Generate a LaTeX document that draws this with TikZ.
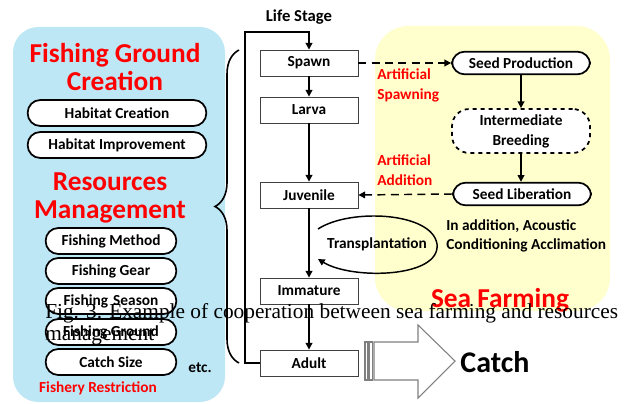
\documentclass[tikz,border=0pt]{standalone}
\usepackage{fontspec}
\setmainfont{Carlito}
\newfontfamily\capfont{Liberation Serif}
\usetikzlibrary{arrows.meta,decorations.pathreplacing,positioning}
\definecolor{panelblue}{RGB}{190,231,246}
\definecolor{panelyellow}{RGB}{255,255,206}
\tikzset{
  pill/.style={draw=black, line width=1.3pt, fill=white, rounded corners=9.5pt, minimum height=19.5pt, inner sep=1pt, font=\bfseries\fontsize{11.5}{13}\selectfont},
  stagebox/.style={draw=black!75, line width=0.6pt, fill=white, minimum width=73.5pt, minimum height=19.5pt, inner sep=1pt, font=\bfseries\fontsize{11.5}{13}\selectfont},
  redtitle/.style={text=red, font=\bfseries\fontsize{20.5}{20.5}\selectfont, align=center, inner sep=0pt},
  redlabel/.style={text=red, font=\bfseries\fontsize{11.5}{15}\selectfont, align=left, inner sep=0pt},
  flow/.style={line width=1.1pt, -{Triangle[length=5pt,width=5pt]}},
  dashflow/.style={flow, dash pattern=on 6pt off 4pt},
}

\begin{document}
\begin{tikzpicture}[x=0.75pt,y=0.75pt,yscale=-1,xscale=1]
\useasboundingbox (0,0) rectangle (624,403);

%Shape: panels
\fill [panelblue, rounded corners=19pt] (13,27) rectangle (225,402);
\fill [panelyellow, rounded corners=25pt] (375,26) rectangle (610,311);

% Fishing ground creation
\node [redtitle] (fgc) at (115,67) {Fishing Ground\\Creation};
\node [pill, minimum width=134pt] (hcre) at (117,113) {Habitat Creation};
\node [pill, minimum width=134pt] (himp) at (117,145) {Habitat Improvement};

% Resources management
\node [redtitle] (rman) at (110,198) {Resources\\Management};
\node [pill, minimum width=98pt] (fmet) at (111,241) {Fishing Method};
\node [pill, minimum width=98pt] (fgear) at (111,271) {Fishing Gear};
\node [pill, minimum width=98pt] (fseas) at (111,301) {Fishing\,\,Season};
\node [pill, minimum width=98pt] (fgrd) at (111,332) {Fishing Ground};
\node [pill, minimum width=98pt] (csize) at (111,362) {Catch Size};
\node [font=\bfseries\fontsize{11.5}{13}\selectfont, inner sep=0pt] (etc) at (200,368) {etc.};
\node [redlabel] (frest) at (98,388) {Fishery Restriction};

%Shape: brace
\draw [line width=1.2pt, decorate, decoration={brace, amplitude=18pt, aspect=0.5}] (239,363) -- (239,50);

% Life stage
\node [font=\bfseries\fontsize{12.5}{14}\selectfont, inner sep=0pt] (lstage) at (299,17) {Life Stage};
\node [stagebox] (spawn) at (309,63) {Spawn};
\node [stagebox] (larva) at (309,110) {Larva};
\node [stagebox] (juv) at (309,195) {Juvenile};
\node [stagebox] (imm) at (309,291) {Immature};
\node [stagebox] (adult) at (309,363) {Adult};

\coordinate (ltop) at (245,32);
\draw [flow, line width=1.3pt] (adult.west) -| (ltop) -| (spawn.north);
\draw [flow] (spawn) -- (larva);
\draw [flow] (larva) -- (juv);
\draw [flow] (juv) -- (imm);
\draw [flow] (imm) -- (adult);

% Transplantation
\node [font=\bfseries\fontsize{11.5}{13}\selectfont, inner sep=0pt] (tp) at (377,244) {Transplantation};
\coordinate (tpa) at (318,229);
\coordinate (tpb) at (318,259);
\draw [flow] (tpa) .. controls (350,208) and (432,212) .. (437,244) .. controls (441,278) and (352,280) .. (tpb);

% Sea farming
\node [pill, minimum width=103.5pt, minimum height=17pt] (seedp) at (521,63) {Seed Production};
\node [pill, dashed, minimum width=103.5pt, minimum height=33pt, rounded corners=13pt, align=center, font=\bfseries\fontsize{11.5}{15}\selectfont] (ib) at (521,131) {Intermediate\\Breeding};
\node [pill, minimum width=103.5pt, minimum height=17pt] (seedl) at (522,194) {Seed Liberation};
\draw [flow] (seedp) -- (ib);
\draw [flow] (ib) -- (seedl.north -| ib);
\draw [dashflow] (spawn.east) -- (seedp.west);
\draw [dashflow] (seedl.west) -- (juv.east);

\node [redlabel, anchor=west] (aspawn) at (377,85) {Artificial\\Spawning};
\node [redlabel, anchor=west] (aadd) at (377,170) {Artificial\\Addition};
\node [font=\bfseries\fontsize{11.5}{14.5}\selectfont, align=left, inner sep=0pt, anchor=west] (acou) at (446,236) {In addition, Acoustic\\Conditioning Acclimation};
\node [redtitle] (sfarm) at (500,300) {Sea Farming};

%Shape: catch arrow
\draw [black!50, line width=0.8pt, fill=white] (365,342) rectangle (368,380);
\draw [black!50, line width=0.8pt, fill=white] (369.5,342) rectangle (372.5,380);
\draw [black!50, line width=0.8pt, fill=white] (374,342) -- (418,342) -- (418,325) -- (455,361) -- (418,398) -- (418,380) -- (374,380) -- cycle;
\node [font=\bfseries\fontsize{22.5}{24}\selectfont, inner sep=0pt] (catch) at (495,362) {Catch};

% Caption
\node [font=\capfont\fontsize{16}{17}\selectfont, anchor=north west, align=left, inner sep=0pt] (cap) at (45,303) {Fig. 3. Example of cooperation between sea farming and resources\\management};

\end{tikzpicture}
\end{document}
